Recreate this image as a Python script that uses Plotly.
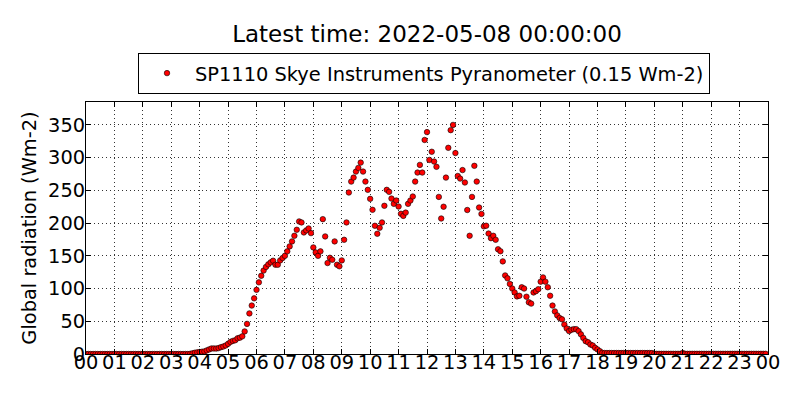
import pandas as pd
import plotly.graph_objects as go

# Global radiation every 5 minutes (Wm-2), 2022-05-07
night_morning = [0, 0, 0, 0, 0, 0, 0, 0, 0, 0, 0, 0,
                 0, 0, 0, 0, 0, 0, 0, 0, 0, 0, 0, 0,
                 0, 0, 0, 0, 0, 0, 0, 0, 0, 0, 0, 0,
                 0, 0, 0, 0, 0, 0, 0, 0, 0.3, 1, 2, 2.5,
                 3, 3.5, 4, 5.5, 7, 8.5, 8.5, 8.3, 9, 10.5, 11.5, 13,
                 15.5, 18.5, 20, 21, 24, 25, 27, 34.5, 46, 62, 74, 85]
forenoon = [98, 109.5, 119.5, 127.5, 133, 137, 140, 142.5, 136.4, 136.4, 143, 146.6,
            150, 156.8, 164.4, 172, 180.6, 189.8, 202.5, 201, 185.7, 188.8, 191.8, 184.7,
            162.8, 155.2, 150, 156.8, 206, 179.6, 139, 147, 144, 172, 136.4, 134,
            143, 174.5, 201, 246.7, 263.4, 269.5, 278.7, 284.3, 292.4, 278.7, 263.4, 250.8,
            237, 220.3, 195.9, 183.7, 192.8, 201, 226.4, 250.8, 247.7, 237.5, 229.4, 234.5,
            225.3, 214.2, 211, 216, 229.4, 234.5, 240.6, 263.4, 277.2, 288.9, 277.2, 327]
afternoon = [339, 296.5, 309, 294, 286, 240, 207, 225, 269.5, 315, 342, 350,
             307, 272, 268, 281, 262, 220, 180.6, 240, 287.5, 263.4, 223.8, 214,
             195, 196, 184, 177, 180.6, 174.5, 160, 157, 141.5, 120, 115.6, 107,
             100, 94, 88, 89, 102, 100, 87.5, 79, 77, 94, 96, 99,
             110.5, 117, 110.5, 102, 89, 74, 65, 59, 55, 53, 45, 39,
             35, 37, 38, 38, 35, 30, 24.6, 19.6, 18, 14.5, 13, 9.4]
evening = [7, 4.3, 1.8, 1.5, 1.5, 1.5, 1.5, 1.5, 1.5, 1.5, 1.5, 1.5,
           1.5, 1.5, 1.5, 1.5, 1.5, 1.5, 1.5, 1.5, 1.5, 1.5, 1.5, 1.5,
           0.3, 0.3, 0.3, 0.3, 0.3, 0.3, 0.3, 0.3, 0.3, 0.3, 0.3, 0.3,
           1.5, 0.3, 0.3, 0.3, 0.3, 0.3, 0.3, 0.3, 0.3, 0.3, 0.3, 0.3,
           0.3, 0.3, 0.3, 0.3, 0.3, 0.3, 0.3, 0.3, 0.3, 0.3, 0.3, 0.3,
           0.3, 0.3, 0.3, 0.3, 0.3, 0.3, 0.3, 0.3, 0.3, 0.3, 0.3, 0.3]

radiation = night_morning + forenoon + afternoon + evening
times = pd.date_range("2022-05-07 00:00", periods=len(radiation), freq="5min")

series_name = "SP1110 Skye Instruments Pyranometer (0.15 Wm-2)"
title_text = "Latest time: 2022-05-08 00:00:00"
y_label = "Global radiation (Wm-2)"
y_max = 385

FONT = "DejaVu Sans"
FIG_W, FIG_H = 784, 384  # page body adds an 8px margin around the figure

fig = go.Figure()
fig.add_trace(go.Scatter(
    x=times, y=radiation, mode="markers", name=series_name,
    marker=dict(color="#ff0000", size=5.5, line=dict(color="black", width=0.6)),
    showlegend=True,
))

axis_common = dict(
    showline=True, linecolor="black", linewidth=1, mirror="ticks",
    ticks="inside", ticklen=5, tickwidth=1, tickcolor="black",
    showgrid=True, gridcolor="#333333", gridwidth=1, griddash="1px,3px",
    zeroline=False, automargin=False,
    tickfont=dict(family=FONT, size=19.4, color="black"),
)

fig.update_xaxes(
    range=["2022-05-07 00:00", "2022-05-08 00:00"],
    tickformat="%H", dtick=3600000, tick0="2022-05-07 00:00",
    ticklabelstandoff=-9,
    **axis_common,
)
fig.update_yaxes(
    range=[0, y_max], dtick=50, tick0=0,
    ticklabelstandoff=-4,
    title=dict(text=y_label, font=dict(family=FONT, size=19.4, color="black"), standoff=6),
    **axis_common,
)

fig.update_layout(
    width=FIG_W, height=FIG_H,
    margin=dict(l=78, r=24, t=94, b=38),
    paper_bgcolor="white", plot_bgcolor="white",
    font=dict(family=FONT, color="black"),
    title=dict(text=title_text, x=0.5, xref="paper", xanchor="center",
               y=1 - 26 / FIG_H, yref="container", yanchor="middle",
               font=dict(family=FONT, size=23, color="black")),
    legend=dict(
        x=(138 - 86) / 682, xanchor="left", y=1 + (102 - 53) / 252, yanchor="top",
        bordercolor="black", borderwidth=1, bgcolor="white",
        font=dict(family=FONT, size=19.4, color="black"),
        itemwidth=46,
    ),
)

fig.write_html("out.html")
